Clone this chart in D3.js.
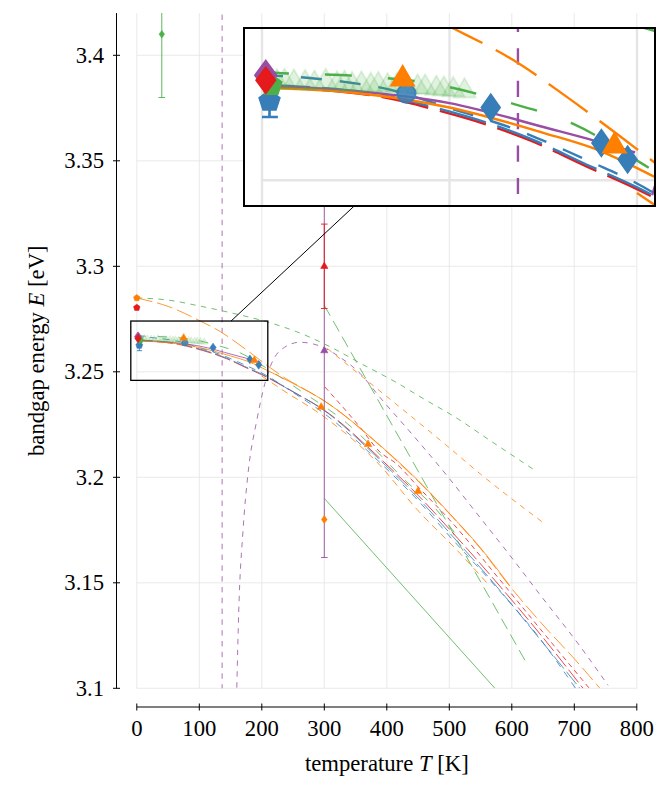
<!DOCTYPE html>
<html><head><meta charset="utf-8">
<script src="https://cdn.jsdelivr.net/npm/d3@7/dist/d3.min.js"></script>
<style>body{margin:0;background:#fff}svg{display:block}</style>
</head><body>
<svg id="chart" width="667" height="796" font-family="'Liberation Serif', 'DejaVu Serif', serif"></svg>
<script>
// ---------- tick labels ----------
const xTicks = [0, 100, 200, 300, 400, 500, 600, 700, 800];
const yTicks = [3.1, 3.15, 3.2, 3.25, 3.3, 3.35, 3.4];
const yTickLabels = ["3.1", "3.15", "3.2", "3.25", "3.3", "3.35", "3.4"];

// ---------- fitted / model curves [T (K), E (eV)] ----------
const greenUpperDashed = [[0,3.2850],[50,3.2840],[100,3.2812],[150,3.2780],[216,3.2730],[260,3.2685],[309,3.2619],[360,3.2537],[415,3.2450],[460,3.2370],[504,3.2295],[570,3.2165],[640,3.2027]];
const greenSteepLinear = [[300,3.2815],[389,3.2350],[470,3.1925],[621,3.1133]];
const greenSolidLinear = [[300,3.1900],[573,3.1000]];
const greenLooseDashed = [[0,3.2672],[7,3.2670],[50,3.2665],[90,3.2653],[129,3.2625],[166,3.2589],[204,3.2524],[261,3.2412],[337,3.2254],[395,3.2090],[426,3.1995],[477,3.1855],[520,3.1690]];
const orangeSolid = [[0,3.2646],[50,3.2638],[100,3.2615],[150,3.2575],[179,3.2548],[209,3.2506],[250,3.2445],[300,3.2362],[389,3.2152],[450,3.1985],[500,3.1830],[550,3.1665],[597,3.1485]];
const orangeLongDashed = [[0,3.2850],[50,3.2810],[104,3.2737],[134,3.2690],[162,3.2633],[189,3.2574],[209,3.2529],[240,3.2465],[270,3.2415],[300,3.2362],[389,3.2150],[450,3.1982],[500,3.1828],[550,3.1662],[597,3.1483],[650,3.1300],[700,3.1140],[741,3.1000]];
const orangeFrom300 = [[305,3.2610],[394,3.2397],[496,3.2150],[550,3.2015],[648,3.1790]];
const orangeLowerDashed = [[200,3.2480],[229,3.2422],[300,3.2286],[389,3.2057],[447,3.1852],[517,3.1640],[560,3.1500]];
const redFrom300 = [[301,3.2428],[357,3.2238],[389,3.2120],[415,3.2065],[450,3.1955],[500,3.1800],[586,3.1496],[650,3.1265],[724,3.1000]];
const redLongDashed = [[0,3.2648],[67,3.2630],[92,3.2612],[124,3.2584],[143,3.2563],[173,3.2522],[200,3.2486],[250,3.2405],[300,3.2318],[389,3.2090],[450,3.1915],[500,3.1755],[585,3.1470],[650,3.1240],[714,3.1000]];
const blueLongDashed = [[0,3.2651],[67,3.2633],[92,3.2615],[124,3.2587],[143,3.2566],[173,3.2525],[200,3.2489],[250,3.2406],[300,3.2316],[389,3.2082],[450,3.1902],[500,3.1738],[585,3.1450],[650,3.1215],[709,3.1000]];
const blueDashed = [[0,3.2666],[24,3.2662],[45,3.2655],[64,3.2646],[100,3.2614],[140,3.2575],[159,3.2551],[177,3.2527],[196,3.2501],[250,3.2402],[300,3.2302],[389,3.2070],[450,3.1890],[500,3.1722],[575,3.1480],[640,3.1255],[702,3.1000]];
const purpleSolid = [[0,3.2650],[50,3.2641],[100,3.2622],[154,3.2581],[178,3.2562],[199,3.2544]];
const purplePoleJump = [[136.5,3.45],[136.5,3.05]];
const purplePoleCurve = [[160,3.1003],[163,3.1355],[170,3.1750],[178,3.2019],[192,3.2270],[205,3.2445],[213,3.2520],[229,3.2600],[261,3.2640],[298,3.2616],[325,3.2569],[357,3.2493],[389,3.2379],[442,3.2199],[496,3.2009],[549,3.1810],[597,3.1630],[650,3.1425],[704,3.1220],[754,3.1014]];

// ---------- measured points ----------
const lightGreenTriT = [8,12,17,23,28,34,40,44,48,53,58,62,67,72,77,83,87,93,97,102,108];
const lightGreenTriE = [3.2655,3.2656,3.2655,3.2654,3.2653,3.2656,3.2652,3.2653,3.2651,3.2652,3.2650,3.2651,3.2649,3.2650,3.2648,3.2647,3.2647,3.2645,3.2644,3.2643,3.2641];
const orangeTriT = [75,188,295,370,450];
const orangeTriE = [3.2660,3.2554,3.2333,3.2156,3.1934];
const blueDiaT = [122,181,195];
const blueDiaE = [3.2615,3.2559,3.2533];
const pentOrange = [0,3.2850];
const pentRed = [0,3.2804];
const pentGreen = [5,3.2650];
const pentBlue = [4,3.2625,0.0025];
const blueCircle = [77,3.2637];
const diaPurple = [2,3.2666];
const diaRed = [2,3.2658];
const diaGreenErr = [40,3.4100,0.03];
const diaOrange = [300,3.1800];
const triRedErr = [300,3.3000,0.02];
const triPurpleErr = [300,3.2600,0.098];

// ---------- scales ----------
const x = d3.scaleLinear().domain([0, 800]).range([136.8, 636.8]);
const y = d3.scaleLinear().domain([3.1, 3.42]).range([688.3, 13.1]);
const C = {red:"#e41a1c", blue:"#377eb8", green:"#4daf4a", purple:"#984ea3", orange:"#ff7f00"};

const svg = d3.select("#chart");
svg.append("rect").attr("width",667).attr("height",796).attr("fill","#fff");
const defs = svg.append("defs");
defs.append("clipPath").attr("id","plotClip").append("rect")
  .attr("x",x(0)).attr("y",y(3.42)).attr("width",x(800)-x(0)).attr("height",y(3.1)-y(3.42));

const series = [
  {d:greenUpperDashed, c:C.green, dash:"5.4,5.4"},
  {d:greenSteepLinear, c:C.green, dash:"12,6"},
  {d:greenSolidLinear, c:C.green, dash:null},
  {d:orangeFrom300, c:C.orange, dash:"5.4,5.4"},
  {d:purplePoleJump, c:C.purple, dash:"5.4,5.4", lin:true},
  {d:purplePoleCurve, c:C.purple, dash:"5.4,5.4"},
  {d:orangeLowerDashed, c:C.orange, dash:"7,5"},
  {d:redFrom300, c:C.red, dash:"5,4"},
  {d:redLongDashed, c:C.red, dash:"16,4"},
  {d:blueLongDashed, c:C.blue, dash:"16,4"},
  {d:blueDashed, c:C.blue, dash:"7,6"},
  {d:greenLooseDashed, c:C.green, dash:"9,12"},
  {d:purpleSolid, c:C.purple, dash:null},
  {d:orangeSolid, c:C.orange, dash:null},
  {d:orangeLongDashed, c:C.orange, dash:"16,5"}
];

function diamondPath(w,h){return `M0,${-h}L${w},0L0,${h}L${-w},0Z`;}
function trianglePath(r){return `M0,${-r}L${r*0.866},${r/2}L${-r*0.866},${r/2}Z`;}
function pentagonPath(r){let p=[];for(let k=0;k<5;k++){const a=-Math.PI/2+k*2*Math.PI/5;p.push([r*Math.cos(a),r*Math.sin(a)]);}return "M"+p.map(q=>q.join(",")).join("L")+"Z";}

function mark(g, path, T, E, col, op){
  g.append("path").attr("d",path).attr("transform",`translate(${x(T)},${y(E)})`)
    .attr("fill",col).attr("stroke",col).attr("stroke-width",0.6)
    .attr("fill-opacity",op==null?1:op).attr("stroke-opacity",op==null?1:op);
}
function errBar(g, T, E, e, col, cap){
  const gg = g.append("g").attr("stroke",col).attr("stroke-width",0.9).attr("clip-path","url(#plotClip)");
  gg.append("line").attr("x1",x(T)).attr("x2",x(T)).attr("y1",y(E-e)).attr("y2",y(E+e));
  [E-e,E+e].forEach(v=>gg.append("line").attr("x1",x(T)-cap).attr("x2",x(T)+cap).attr("y1",y(v)).attr("y2",y(v)));
}

function drawContent(g){
  const grid = g.append("g").attr("stroke","#e5e5e5").attr("stroke-width",0.8);
  xTicks.forEach(t=>grid.append("line").attr("x1",x(t)).attr("x2",x(t)).attr("y1",y(3.42)).attr("y2",y(3.1)));
  yTicks.forEach(t=>grid.append("line").attr("x1",x(0)).attr("x2",x(800)).attr("y1",y(t)).attr("y2",y(t)));
  const lines = g.append("g").attr("clip-path","url(#plotClip)").attr("fill","none").attr("stroke-width",0.8);
  series.forEach(s=>{
    const gen = d3.line().x(d=>x(d[0])).y(d=>y(d[1])).curve(s.lin?d3.curveLinear:d3.curveMonotoneX);
    lines.append("path").attr("d",gen(s.d)).attr("stroke",s.c).attr("stroke-dasharray",s.dash);
  });
  errBar(g, diaGreenErr[0], diaGreenErr[1], diaGreenErr[2], C.green, 3.3);
  errBar(g, triPurpleErr[0], triPurpleErr[1], triPurpleErr[2], C.purple, 3.3);
  errBar(g, triRedErr[0], triRedErr[1], triRedErr[2], C.red, 3.3);
  errBar(g, pentBlue[0], pentBlue[1], pentBlue[2], C.blue, 2.8);
  lightGreenTriT.forEach((t,i)=>mark(g, trianglePath(4.3), t, lightGreenTriE[i], C.green, 0.17));
  mark(g, pentagonPath(3.6), pentBlue[0], pentBlue[1], C.blue);
  mark(g, pentagonPath(3.6), pentGreen[0], pentGreen[1], C.green);
  mark(g, diamondPath(3.6,4.9), diaPurple[0], diaPurple[1], C.purple);
  mark(g, diamondPath(3.2,4.3), diaRed[0], diaRed[1], C.red);
  mark(g, pentagonPath(3.4), pentOrange[0], pentOrange[1], C.orange);
  mark(g, pentagonPath(3.4), pentRed[0], pentRed[1], C.red);
  mark(g, d3.symbol(d3.symbolCircle, 30)(), blueCircle[0], blueCircle[1], C.blue, 0.85);
  blueDiaT.forEach((t,i)=>mark(g, diamondPath(3.1,4.4), t, blueDiaE[i], C.blue));
  orangeTriT.forEach((t,i)=>mark(g, trianglePath(4.4), t, orangeTriE[i], C.orange));
  mark(g, diamondPath(2.7,3.8), diaGreenErr[0], diaGreenErr[1], C.green);
  mark(g, diamondPath(2.8,4.0), diaOrange[0], diaOrange[1], C.orange);
  mark(g, trianglePath(4.2), triRedErr[0], triRedErr[1], C.red);
  mark(g, trianglePath(4.2), triPurpleErr[0], triPurpleErr[1], C.purple);
}

drawContent(svg.append("g"));

// ---------- axes (offset axis lines) ----------
const axX = 116.5, axY = 707;
const ax = svg.append("g").attr("stroke","#000").attr("stroke-width",1);
ax.append("line").attr("x1",axX).attr("x2",axX).attr("y1",y(3.42)).attr("y2",y(3.1));
ax.append("line").attr("x1",x(0)).attr("x2",x(800)).attr("y1",axY).attr("y2",axY);
yTicks.forEach(t=>ax.append("line").attr("x1",axX-3.5).attr("x2",axX+3.5).attr("y1",y(t)).attr("y2",y(t)));
xTicks.forEach(t=>ax.append("line").attr("x1",x(t)).attr("x2",x(t)).attr("y1",axY-3.5).attr("y2",axY+3.5));
const fs = 22.7;
const FF = "'Liberation Serif', 'DejaVu Serif', serif";
yTicks.forEach((t,i)=>svg.append("text").attr("font-family",FF).attr("x",104).attr("y",y(t)+7.5).attr("text-anchor","end").attr("font-size",fs).text(yTickLabels[i]));
xTicks.forEach(t=>svg.append("text").attr("font-family",FF).attr("x",x(t)).attr("y",736).attr("text-anchor","middle").attr("font-size",fs).text(t));
const xt = svg.append("text").attr("font-family",FF).attr("x",(x(0)+x(800))/2).attr("y",771).attr("text-anchor","middle").attr("font-size",fs);
xt.append("tspan").text("temperature ");
xt.append("tspan").attr("font-style","italic").text("T");
xt.append("tspan").text(" [K]");
const yt = svg.append("text").attr("font-family",FF).attr("transform",`translate(44,${(y(3.1)+y(3.42))/2}) rotate(-90)`).attr("text-anchor","middle").attr("font-size",fs);
yt.append("tspan").text("bandgap energy ");
yt.append("tspan").attr("font-style","italic").text("E");
yt.append("tspan").text(" [eV]");

// ---------- spy / magnified inset ----------
const zoomF = 3, spyT = 100, spyE = 3.26;
const insetCx = 449.5, insetCy = 117, insetW = 411, insetH = 178;
const sx = x(spyT), sy = y(spyE), sw = insetW/zoomF, sh = insetH/zoomF;
(function(){
  const dx = insetCx - sx, dy = insetCy - sy;
  const t0 = Math.min((sw/2)/Math.abs(dx), (sh/2)/Math.abs(dy));
  const t1 = 1 - Math.min((insetW/2)/Math.abs(dx), (insetH/2)/Math.abs(dy));
  svg.append("line").attr("x1",sx+dx*t0).attr("y1",sy+dy*t0).attr("x2",sx+dx*t1).attr("y2",sy+dy*t1)
    .attr("stroke","#000").attr("stroke-width",1);
})();
svg.append("rect").attr("x",sx-sw/2).attr("y",sy-sh/2).attr("width",sw).attr("height",sh)
  .attr("fill","none").attr("stroke","#000").attr("stroke-width",1.3);
defs.append("clipPath").attr("id","insetClip").append("rect")
  .attr("x",insetCx-insetW/2).attr("y",insetCy-insetH/2).attr("width",insetW).attr("height",insetH);
const inset = svg.append("g").attr("clip-path","url(#insetClip)");
inset.append("rect").attr("x",insetCx-insetW/2).attr("y",insetCy-insetH/2).attr("width",insetW).attr("height",insetH).attr("fill","#fff");
drawContent(inset.append("g").attr("transform",`translate(${insetCx},${insetCy}) scale(${zoomF}) translate(${-sx},${-sy})`));
svg.append("rect").attr("x",insetCx-insetW/2).attr("y",insetCy-insetH/2).attr("width",insetW).attr("height",insetH)
  .attr("fill","none").attr("stroke","#000").attr("stroke-width",2);
</script>
</body></html>
